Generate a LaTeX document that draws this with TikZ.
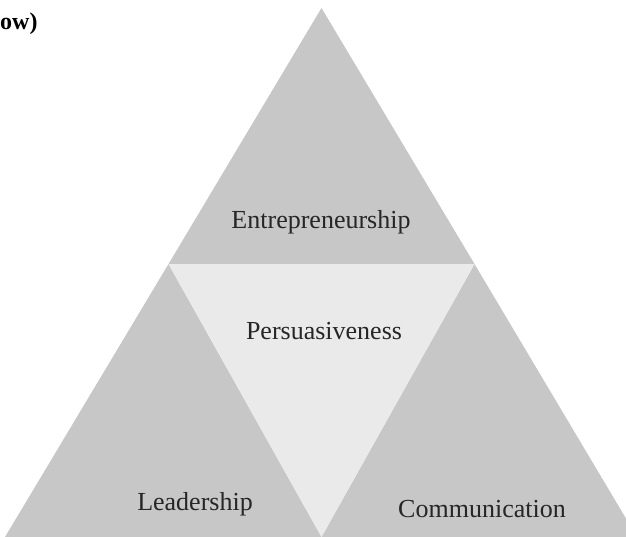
\documentclass[tikz,border=0pt]{standalone}
\usepackage{fontspec}
\setmainfont{Liberation Serif}
\begin{document}
\begin{tikzpicture}[x=1bp,y=-1bp,
  facet/.style={fill=pyrgray,draw=none},
  core/.style={fill=pyrlight,draw=none},
  label/.style={anchor=base,inner sep=0pt,font=\fontsize{26bp}{30bp}\selectfont,text=black!85}]
\definecolor{pyrgray}{RGB}{198,199,198}
\definecolor{pyrlight}{RGB}{233,234,233}
\useasboundingbox (0,0) rectangle (626,537);
\clip (0,0) rectangle (626,537);
% corner points of the pyramid
\coordinate (apex) at (321.5,8);
\coordinate (ml) at (168.5,264);
\coordinate (mr) at (474.5,264);
\coordinate (bl) at (5,537);
\coordinate (bm) at (321.5,537);
\coordinate (br) at (637,537);
% four triangular facets
\fill[facet] (apex) -- (ml) -- (mr) -- cycle;
\fill[facet] (ml) -- (bl) -- (bm) -- cycle;
\fill[facet] (mr) -- (bm) -- (br) -- cycle;
\fill[core] (ml) -- (mr) -- (bm) -- cycle;
% labels
\node[label] (ent) at (321,229) {Entrepreneurship};
\node[label] (per) at (324,339) {Persuasiveness};
\node[label] (lea) at (195,510) {Leadership};
\node[label] (com) at (482,517) {Communication};
\node[anchor=base west,inner sep=0pt,font=\fontsize{24bp}{28bp}\selectfont\bfseries] (hdr) at (0,30) {ow)};
\end{tikzpicture}
\end{document}
